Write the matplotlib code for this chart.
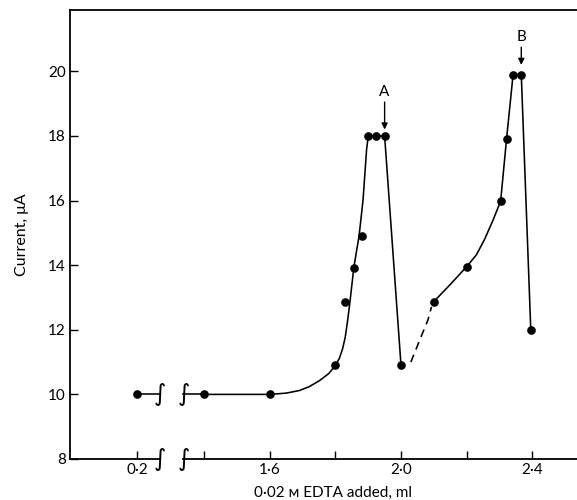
import numpy as np
import matplotlib

matplotlib.use("Agg")
import matplotlib.pyplot as plt

plt.rcParams["font.family"] = ["Lato", "DejaVu Sans"]

# measured points (ml EDTA, current in uA)
point_x = [0.2, 1.4, 1.6, 1.8, 1.83, 1.856, 1.88, 1.90, 1.925, 1.95, 2.0,
           2.1, 2.2, 2.304, 2.322, 2.342, 2.367, 2.396]
point_y = [10, 10, 10, 10.9, 12.85, 13.92, 14.9, 18, 18, 18, 10.9,
           12.87, 13.95, 15.98, 17.9, 19.9, 19.9, 12.0]

# hand-drawn curve
curve1_x = [1.4, 1.6, 1.65, 1.69, 1.72, 1.752, 1.78, 1.8, 1.812, 1.822, 1.83,
            1.837, 1.844, 1.85, 1.856, 1.864, 1.872, 1.884, 1.895, 1.90, 1.925,
            1.95, 2.0]
curve1_y = [10, 10, 10.04, 10.12, 10.24, 10.43, 10.65, 10.9, 11.12, 11.42, 11.78,
            12.28, 12.84, 13.38, 13.92, 14.42, 14.9, 16.0, 17.58, 18, 18,
            18, 10.9]
dashed_x = [2.03, 2.057, 2.082, 2.093]
dashed_y = [11.0, 11.68, 12.3, 12.71]
curve2_x = [2.1, 2.15, 2.2, 2.23, 2.255, 2.281, 2.304, 2.322, 2.342, 2.367, 2.396]
curve2_y = [12.87, 13.4, 13.95, 14.32, 14.8, 15.4, 15.98, 17.9, 19.9, 19.9, 12.0]
start_x = [0.2, 0.27]
start_y = [10, 10]
rejoin_x = [1.336, 1.4]
rejoin_y = [10, 10]

break_left, break_right = 0.27, 1.336
xticks = [0.2, 1.4, 1.6, 1.8, 2.0, 2.2, 2.4]
xticklabels = ["0·2", "", "1·6", "", "2·0", "", "2·4"]
yticks = [8, 10, 12, 14, 16, 18, 20]

# arrows: (label, x, label y, arrow start y, arrow tip y)
arrows = [("A", 1.95, 19.35, 19.05, 18.2), ("B", 2.367, 21.06, 20.75, 20.2)]


# piecewise scale that squeezes out the 0.3-1.3 gap
def fwd(x):
    x = np.asarray(x, dtype=float)
    return np.where(x <= 0.3, x + 0.995,
                    np.where(x >= 1.3, x, 1.295 + (x - 0.3) * 0.005))


def inv(p):
    p = np.asarray(p, dtype=float)
    return np.where(p <= 1.295, p - 0.995,
                    np.where(p >= 1.3, p, 0.3 + (p - 1.295) / 0.005))


fig = plt.figure(figsize=(5.77, 5.0), dpi=100)
ax = fig.add_axes([70 / 577, 41 / 500, 526 / 577, 449 / 500])
ax.set_xscale("function", functions=(fwd, inv))
ax.set_xlim(-0.005, 2.595)
ax.set_ylim(8, 21.9)

lw = 1.15
ax.plot(start_x, start_y, color="black", lw=lw)
ax.plot(rejoin_x, rejoin_y, color="black", lw=lw)
ax.plot(curve1_x, curve1_y, color="black", lw=lw)
ax.plot(curve2_x, curve2_y, color="black", lw=lw)
ax.plot(dashed_x, dashed_y, color="black", lw=lw, linestyle=(0, (5, 3.5)))
ax.plot(point_x, point_y, "o", color="black", markersize=5.2, zorder=3)

# break marks on the curve and on the axis line
for bx in (break_left, break_right):
    for by in (10, 8):
        ax.text(bx, by, "∫", ha="center", va="center", fontsize=17,
                family="DejaVu Sans", clip_on=False)

trans = ax.get_xaxis_transform()
ax.plot([-0.005, break_left], [0, 0], color="black", lw=1.3, transform=trans,
        clip_on=False)
ax.plot([break_right, 2.595], [0, 0], color="black", lw=1.3, transform=trans,
        clip_on=False)

for name, x, ly, y0, y1 in arrows:
    ax.annotate("", xy=(x, y1), xytext=(x, y0),
                arrowprops=dict(arrowstyle="-|>", color="black", lw=1.0,
                                mutation_scale=9, shrinkA=0, shrinkB=0))
    ax.text(x, ly, name, ha="center", va="center", fontsize=11)

ax.spines["right"].set_visible(False)
ax.spines["bottom"].set_visible(False)
ax.spines["left"].set_linewidth(1.3)
ax.spines["top"].set_linewidth(1.3)

ax.set_xticks(xticks)
ax.set_xticklabels(xticklabels)
ax.set_yticks(yticks)
ax.minorticks_off()
ax.tick_params(direction="in", length=6, width=1.0, labelsize=11, pad=3)

ax.set_ylabel("Current, μA", fontsize=11.5, labelpad=14)
ax.set_xlabel("0·02 ᴍ EDTA added, ml", fontsize=11, labelpad=6)

fig.savefig("out.png", dpi=100)
